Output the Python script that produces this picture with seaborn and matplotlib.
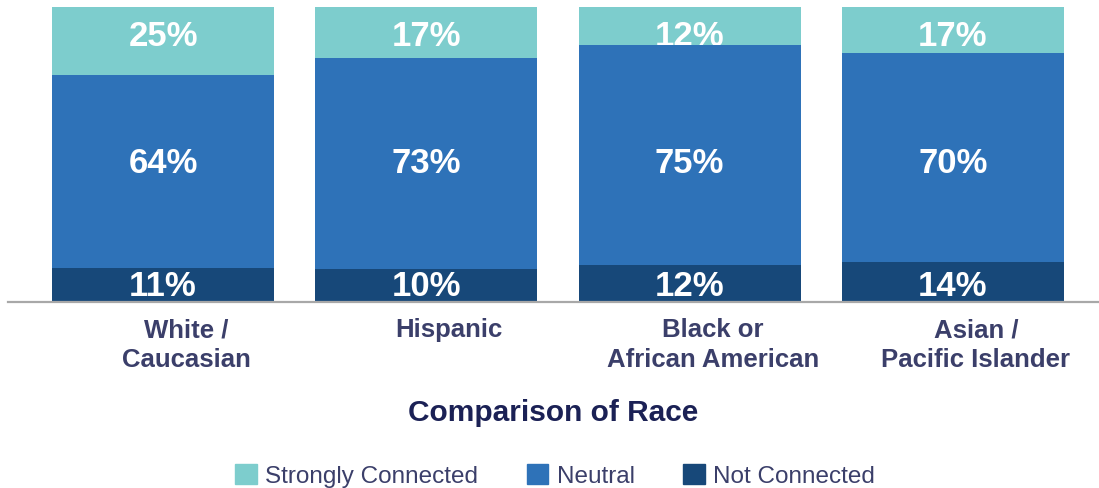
import matplotlib
matplotlib.use("Agg")
import matplotlib.pyplot as plt
import matplotlib.transforms as mtransforms
from matplotlib.patches import Patch
import numpy as np
import seaborn as sns

# data (bar heights in %, labels as printed)
races = ["White /\nCaucasian", "Hispanic", "Black or\nAfrican American", "Asian /\nPacific Islander"]
not_connected = [11.3, 11.1, 12.5, 13.5]
neutral = [65.6, 71.6, 74.7, 70.9]
strongly = [23.1, 17.3, 12.9, 15.6]
not_labels = ["11%", "10%", "12%", "14%"]
neutral_labels = ["64%", "73%", "75%", "70%"]
strong_labels = ["25%", "17%", "12%", "17%"]

c_strong = "#7DCDCD"
c_neutral = "#2E72B8"
c_not = "#174879"
text_col = "#3B3F6A"
title_col = "#1B2155"

sns.set_style("white")
plt.rcParams["font.family"] = ["Liberation Sans", "DejaVu Sans"]

fig = plt.figure(figsize=(10.99, 4.88), dpi=100)
ax = fig.add_axes([8 / 1099, 1 - 301.7 / 488, 1 - 8 / 1099, 294.7 / 488])

bw = 0.843
nc = np.array(not_connected)
ne = np.array(neutral)
st = np.array(strongly)

bar_kw = dict(width=bw, saturation=1, ax=ax, linewidth=0, edgecolor="none")
sns.barplot(x=races, y=st, bottom=nc + ne, color=c_strong, zorder=1, **bar_kw)
sns.barplot(x=races, y=ne, bottom=nc, color=c_neutral, zorder=2, **bar_kw)
sns.barplot(x=races, y=nc, color=c_not, zorder=3, **bar_kw)

lab_kw = dict(ha="center", va="baseline", color="white", fontsize=25, fontweight="bold")
for i in range(len(races)):
    ax.text(i, 86.6, strong_labels[i], zorder=1.5, **lab_kw)
    ax.text(i, 43.6, neutral_labels[i], zorder=4, **lab_kw)
    ax.text(i, 2.1, not_labels[i], zorder=4, **lab_kw)

ax.set_xlim((8 - 163) / 263.33, (1099 - 163) / 263.33)
ax.set_ylim(0, 100)
ax.set_yticks([])
for s in ["top", "right", "left"]:
    ax.spines[s].set_visible(False)
ax.spines["bottom"].set_color("#A8A8A8")
ax.spines["bottom"].set_linewidth(1.6)
ax.spines["bottom"].set_zorder(5)

ax.tick_params(axis="x", length=0, pad=12, labelsize=18.5, labelcolor=text_col)
offset = mtransforms.ScaledTranslation(0.23, 0, fig.dpi_scale_trans)
for t in ax.get_xticklabels():
    t.set_fontweight("bold")
    t.set_linespacing(1.3)
    t.set_transform(t.get_transform() + offset)

ax.set_xlabel("Comparison of Race", fontsize=21.5, fontweight="bold", color=title_col)
ax.xaxis.set_label_coords(0.5, -0.33)

handles = [Patch(color=c_strong, label="Strongly Connected"),
           Patch(color=c_neutral, label="Neutral"),
           Patch(color=c_not, label="Not Connected")]
leg = fig.legend(handles=handles, loc="center", bbox_to_anchor=(0.505, 1 - 476 / 488),
                 ncol=3, frameon=False, fontsize=17.5, handlelength=0.9, handleheight=0.9,
                 handletextpad=0.33, columnspacing=2.0, borderaxespad=0, borderpad=0)
for t in leg.get_texts():
    t.set_color(text_col)

fig.savefig("out.png", dpi=100)
